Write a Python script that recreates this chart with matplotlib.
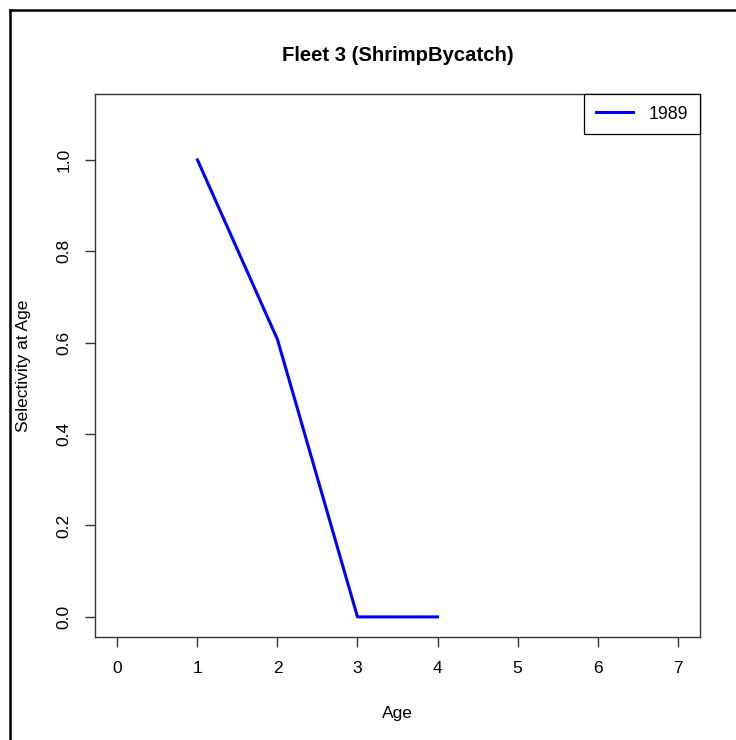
import matplotlib
matplotlib.use('Agg')
import matplotlib.pyplot as plt
from matplotlib.lines import Line2D

plt.rcParams['font.family'] = ['Liberation Sans', 'DejaVu Sans']

# data
ages = [1, 2, 3, 4]
selex_1989 = [1.0, 0.607, 0.0, 0.0]
x_ticks = [0, 1, 2, 3, 4, 5, 6, 7]
y_ticks = [0.0, 0.2, 0.4, 0.6, 0.8, 1.0]
series_label = '1989'

W, H = 736, 740
fig = plt.figure(figsize=(W / 100, H / 100), dpi=100)

# outer frame (only left and top edges visible in the reference)
fig.add_artist(Line2D([10 / W, 10 / W], [0, 1 - 10 / H], color='black', lw=1.8,
                      transform=fig.transFigure))
fig.add_artist(Line2D([10 / W, 1], [1 - 10 / H, 1 - 10 / H], color='black', lw=1.8,
                      transform=fig.transFigure))

ax = fig.add_axes([95 / W, 1 - 637 / H, 605 / W, 543 / H])
ax.plot(ages, selex_1989, color='blue', lw=2.2, label=series_label)

ax.set_xlim(-0.28, 7.28)
ax.set_ylim(-0.044, 1.144)
ax.set_xticks(x_ticks)
ax.set_yticks(y_ticks)
ax.set_yticklabels([f'{v:.1f}' for v in y_ticks], rotation=90, va='center')

for s in ax.spines.values():
    s.set_color('#333333')
    s.set_linewidth(1.0)
ax.tick_params(axis='both', direction='out', length=7, width=1.0, color='#333333',
               labelsize=12.5, pad=10)

ax.set_xlabel('Age', fontsize=12.5, labelpad=22)
ax.set_ylabel('Selectivity at Age', fontsize=12.5, labelpad=18)
ax.set_title('Fleet 3 (ShrimpBycatch)', fontsize=14.6, fontweight='bold', pad=24)

leg = ax.legend(loc='upper right', borderaxespad=0, fancybox=False, framealpha=1,
                edgecolor='black', fontsize=12.8, handlelength=2.1, handletextpad=0.9,
                borderpad=0.65)
leg.get_frame().set_linewidth(0.9)

fig.savefig('out.png', dpi=100)
